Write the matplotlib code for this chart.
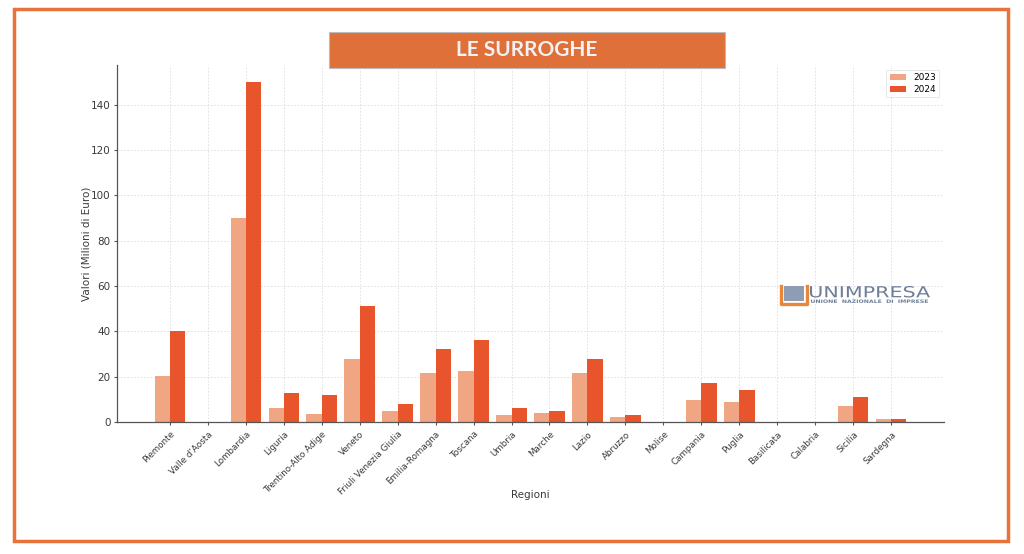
import numpy as np
import matplotlib.pyplot as plt
from matplotlib.patches import Rectangle, PathPatch
from matplotlib.textpath import TextPath
from matplotlib.font_manager import FontProperties
from matplotlib.transforms import Affine2D
from matplotlib.lines import Line2D

regioni = ["Piemonte", "Valle d'Aosta", "Lombardia", "Liguria", "Trentino-Alto Adige",
           "Veneto", "Friuli Venezia Giulia", "Emilia-Romagna", "Toscana", "Umbria",
           "Marche", "Lazio", "Abruzzo", "Molise", "Campania", "Puglia", "Basilicata",
           "Calabria", "Sicilia", "Sardegna"]
val_2023 = [20.5, 0, 90, 6.2, 3.5, 27.7, 5, 21.4, 22.7, 3, 3.8, 21.8, 2.1, 0, 9.7, 8.7, 0, 0, 7, 1.2]
val_2024 = [40, 0, 150, 13, 12, 51, 8, 32, 36, 6, 4.8, 28, 2.9, 0, 17, 13.9, 0, 0, 11, 1.5]

c23 = "#F0A683"
c24 = "#E8542B"
border_col = "#E8733A"
txt_col = "#3A3A3A"

fig = plt.figure(figsize=(10.24, 5.54), dpi=100)
W, H = 1024, 554

def fx(px):
    return px / W

def fy(py):
    return 1 - py / H

ax = fig.add_axes([fx(117), fy(422), fx(944) - fx(117), fy(65) - fy(422)])

x = np.arange(len(regioni))
w = 0.4
ax.bar(x - w / 2, val_2023, w, color=c23, label="2023", zorder=2)
ax.bar(x + w / 2, val_2024, w, color=c24, label="2024", zorder=2)

ax.set_xticks(x)
ax.set_xticklabels(regioni, rotation=45, ha="right", rotation_mode="anchor", fontsize=6.3, color=txt_col)
ax.tick_params(axis="y", labelsize=7.5, colors=txt_col, pad=2)
ax.tick_params(axis="x", pad=3)
ax.tick_params(axis="both", length=2.5, color="#555555")
ax.set_ylim(0, 157.5)
ax.set_yticks([0, 20, 40, 60, 80, 100, 120, 140])
ax.grid(True, linestyle=(0, (2, 2)), color="#DDDDDD", linewidth=0.6, zorder=0)
for s in ["top", "right"]:
    ax.spines[s].set_visible(False)
for s in ["left", "bottom"]:
    ax.spines[s].set_color("#555555")
    ax.spines[s].set_linewidth(0.9)
ax.set_ylabel("Valori (Milioni di Euro)", fontsize=7.5, color=txt_col)
ax.yaxis.set_label_coords(-0.031, 0.5)
ax.set_xlabel("Regioni", fontsize=7.5, color=txt_col)
ax.xaxis.set_label_coords(0.5, -0.19)
leg = ax.legend(loc="upper right", fontsize=6.5, frameon=True, handlelength=1.8,
                borderpad=0.4, labelspacing=0.3, bbox_to_anchor=(1.0, 1.0))
leg.get_frame().set_edgecolor("#DDDDDD")
leg.get_frame().set_linewidth(0.6)

# outer frame
fig.patches.append(Rectangle((fx(14), fy(541)), fx(1008) - fx(14), fy(9) - fy(541),
                             transform=fig.transFigure, fill=False,
                             edgecolor=border_col, linewidth=2.5))

# title box
fig.patches.append(Rectangle((fx(329), fy(68)), fx(725) - fx(329), fy(32) - fy(68),
                             transform=fig.transFigure, facecolor="#E0703A",
                             edgecolor="#BBBBBB", linewidth=0.8))
fig.text(fx(527), fy(50), "LE SURROGHE", ha="center", va="center", fontsize=15,
         fontweight="bold", family="Lato", color="#F2F2F2")


# logo: text fitted into a pixel box
def fit_text(s, x0, y0, x1, y1, color, weight="normal"):
    tp = TextPath((0, 0), s, size=1, prop=FontProperties(family="DejaVu Sans", weight=weight))
    ext = tp.get_extents()
    sx = (x1 - x0) / ext.width
    sy = (y1 - y0) / ext.height
    tr = (Affine2D().translate(-ext.x0, -ext.y0).scale(sx / W, sy / H)
          .translate(fx(x0), fy(y1)) + fig.transFigure)
    fig.patches.append(PathPatch(tp, transform=tr, facecolor=color, edgecolor="none"))


fig.patches.append(Rectangle((fx(784), fy(301)), fx(804) - fx(784), fy(286) - fy(301),
                             transform=fig.transFigure, facecolor="#8E9DB3", edgecolor="none"))
fig.lines.append(Line2D([fx(781), fx(781), fx(807), fx(807)],
                        [fy(286), fy(304), fy(304), fy(286)],
                        transform=fig.transFigure, color="#E8873A", linewidth=2.4,
                        solid_joinstyle="round"))
fit_text("UNIMPRESA", 810, 286, 930, 297.5, "#6E7E98")
fit_text("UNIONE  NAZIONALE  DI  IMPRESE", 811, 299.5, 928, 303, "#6E7E98", weight="bold")

fig.savefig("out.png", dpi=100)
